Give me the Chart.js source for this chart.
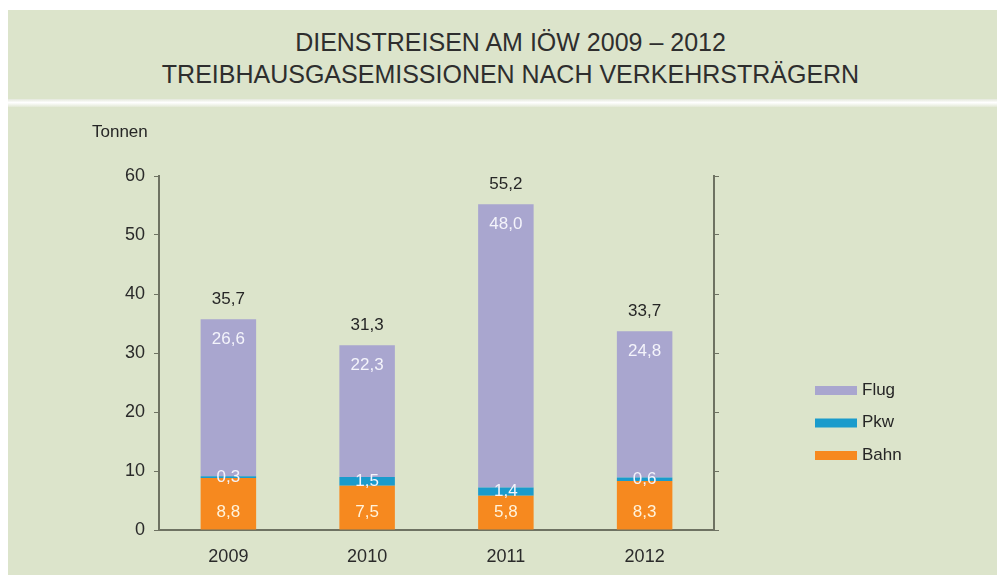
<!DOCTYPE html>
<html>
<head>
<meta charset="utf-8">
<script src="https://cdn.jsdelivr.net/npm/chart.js@4.4.1/dist/chart.umd.min.js"></script>
<style>
  body { margin: 0; background: #fff; width: 997px; height: 575px; overflow: hidden; position: relative; font-family: 'Liberation Sans', Arial, sans-serif; }
  #head { position: absolute; left: 8px; top: 10px; width: 989px; height: 89px; background: #dce4cb; color: #2e2e2e; text-align: center; font-size: 25px; }
  #head div { position: absolute; left: 8px; width: 100%; line-height: 30px; }
  #stripe { position: absolute; left: 8px; top: 99px; width: 989px; height: 8px; background: linear-gradient(#e4e8dc, #ffffff 45%, #e2e8d6); }
  #plot { position: absolute; left: 8px; top: 107px; width: 989px; height: 468px; background: #dce4cb; }
</style>
</head>
<body>
<div id="head">
  <div style="top: 17px">DIENSTREISEN AM IÖW 2009 – 2012</div>
  <div style="top: 49px">TREIBHAUSGASEMISSIONEN NACH VERKEHRSTRÄGERN</div>
</div>
<div id="stripe"></div>
<div id="plot"><canvas id="myChart" width="989" height="468"></canvas></div>
<script>
// Daten (Tonnen CO2-Äquivalente)
const years = ['2009', '2010', '2011', '2012'];
const bahn = [8.8, 7.5, 5.8, 8.3];
const pkw = [0.3, 1.5, 1.4, 0.6];
const flug = [26.6, 22.3, 48.0, 24.8];
const totals = [35.7, 31.3, 55.2, 33.7];
const yTicks = [0, 10, 20, 30, 40, 50, 60];

const FONT = "'Liberation Sans', Arial, sans-serif";
const fmt = v => v.toFixed(1).replace('.', ',');

// Werte in den Balken + Summen + Legende zeichnen
const labelPlugin = {
  id: 'labels',
  afterDatasetsDraw(chart) {
    const ctx = chart.ctx;
    ctx.save();
    ctx.font = '17px ' + FONT;
    ctx.textAlign = 'center';
    ctx.textBaseline = 'middle';
    chart.data.datasets.forEach((ds, i) => {
      const meta = chart.getDatasetMeta(i);
      meta.data.forEach((bar, j) => {
        const { x, y, base } = bar.getProps(['x', 'y', 'base'], true);
        let ty;
        if (ds.label === 'Bahn') ty = base - 17;
        else if (ds.label === 'Pkw') ty = (y + base) / 2;
        else ty = y + 20;
        ctx.fillStyle = ds.label === 'Bahn' ? '#fff3dc' : '#f4f4fb';
        ctx.fillText(fmt(ds.data[j]), x, ty);
        if (ds.label === 'Flug') {
          ctx.fillStyle = '#262626';
          ctx.fillText(fmt(totals[j]), x, y - 20);
        }
      });
    });
    // Legende rechts
    const order = [...chart.data.datasets].reverse();
    ctx.textAlign = 'left';
    ctx.font = '17px ' + FONT;
    order.forEach((ds, k) => {
      const ly = 283 + k * 32.5;
      ctx.fillStyle = ds.backgroundColor;
      ctx.fillRect(807, ly - 4, 42, 9);
      ctx.fillStyle = '#262626';
      ctx.fillText(ds.label, 854, ly);
    });
    ctx.restore();
  }
};

const tickFont = { family: FONT, size: 18 };

new Chart(document.getElementById('myChart'), {
  type: 'bar',
  data: {
    labels: years,
    datasets: [
      { label: 'Bahn', data: bahn, backgroundColor: '#f6891f' },
      { label: 'Pkw', data: pkw, backgroundColor: '#1a9bcc' },
      { label: 'Flug', data: flug, backgroundColor: '#a9a6cf' },
    ],
  },
  options: {
    responsive: false,
    animation: false,
    layout: { padding: { left: 0, top: 69, right: 271, bottom: 0 } },
    barPercentage: 0.8,
    categoryPercentage: 0.5,
    plugins: {
      legend: { display: false },
      tooltip: { enabled: false },
      title: { display: false },
    },
    scales: {
      x: {
        stacked: true,
        grid: { display: false },
        border: { display: true, color: '#6e7262', width: 2 },
        ticks: { color: '#2a2a2a', font: tickFont, padding: 8 },
        afterFit: s => { s.height = 45; },
      },
      y: {
        stacked: true,
        min: 0,
        max: 60,
        afterBuildTicks: s => { s.ticks = yTicks.map(v => ({ value: v })); },
        grid: { drawOnChartArea: false, tickLength: 5, color: '#6e7262', lineWidth: 1 },
        border: { color: '#6e7262', width: 2 },
        ticks: { color: '#2a2a2a', font: tickFont, padding: 9 },
        title: { display: false },
        afterFit: s => { s.width = 151; },
      },
      y2: {
        position: 'right',
        min: 0,
        max: 60,
        afterBuildTicks: s => { s.ticks = yTicks.map(v => ({ value: v })); },
        grid: { drawOnChartArea: false, tickLength: 5, color: '#6e7262', lineWidth: 1 },
        border: { color: '#6e7262', width: 2 },
        ticks: { display: false },
        afterFit: s => { s.width = 12; },
      },
    },
  },
  plugins: [labelPlugin, {
    id: 'unit',
    afterDraw(chart) {
      const ctx = chart.ctx;
      ctx.save();
      ctx.font = '17px ' + FONT;
      ctx.fillStyle = '#262626';
      ctx.textBaseline = 'middle';
      ctx.fillText('Tonnen', 84, 25);
      ctx.restore();
    }
  }],
});
</script>
</body>
</html>
